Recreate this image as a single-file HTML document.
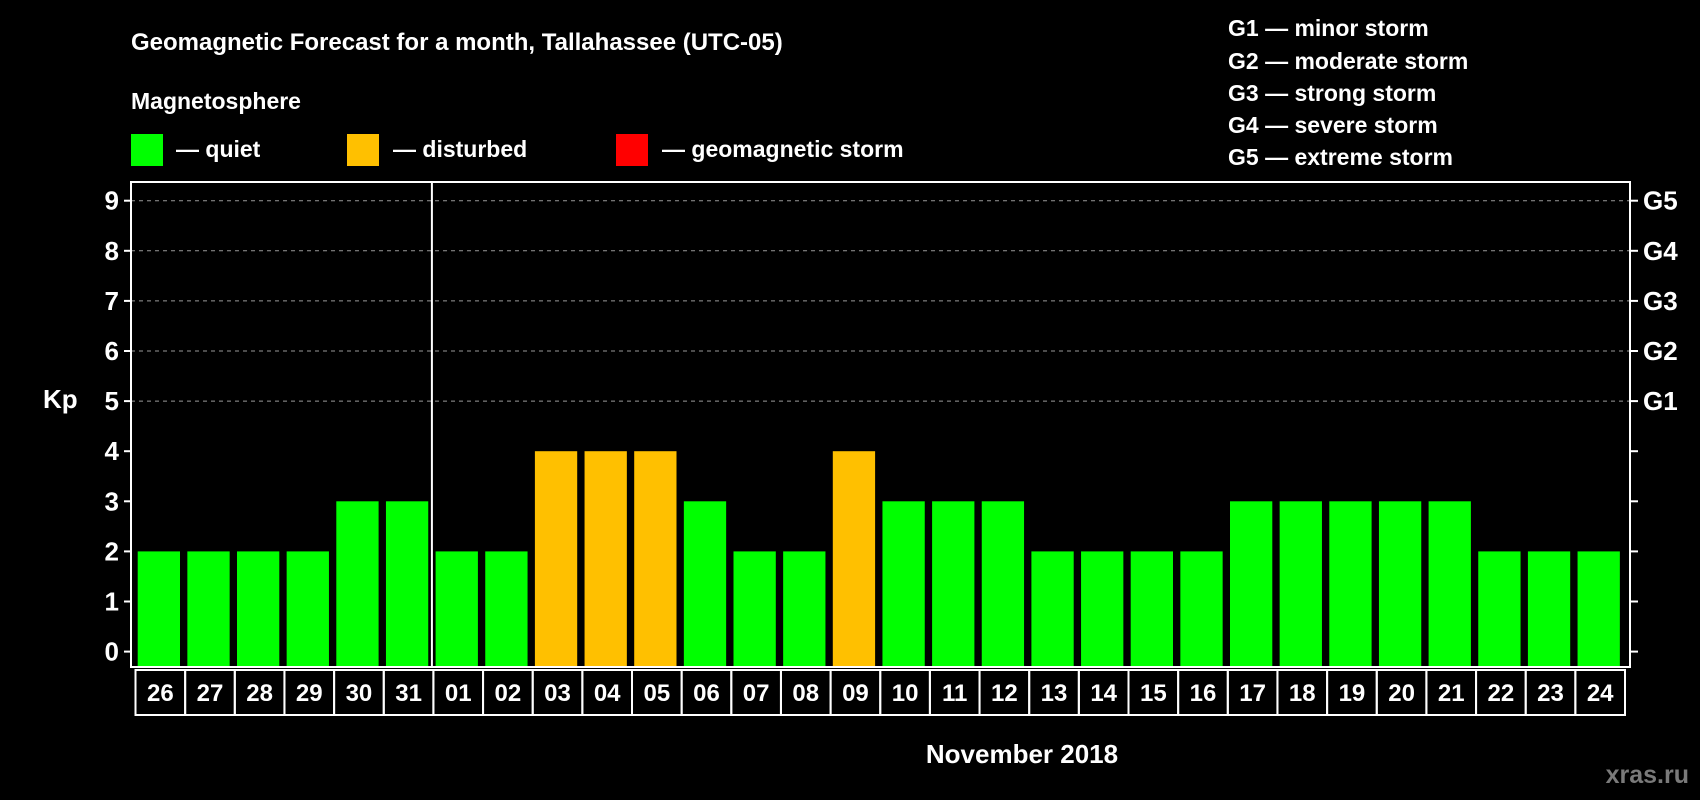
<!DOCTYPE html>
<html><head><meta charset="utf-8"><style>
html,body{margin:0;padding:0;background:#000;}
svg{display:block;font-family:"Liberation Sans",Arial,sans-serif;font-weight:bold;}
</style></head><body>
<svg id="chart" width="1700" height="800" viewBox="0 0 1700 800">
<rect width="1700" height="800" fill="#000"/>
<text x="131" y="50" fill="#fff" font-size="24">Geomagnetic Forecast for a month, Tallahassee (UTC-05)</text>
<text x="131" y="109" fill="#fff" font-size="23">Magnetosphere</text>
<g><rect x="131" y="134" width="32" height="32" fill="#00ff00"/><text x="176" y="157" fill="#fff" font-size="23">— quiet</text></g>
<g><rect x="347" y="134" width="32" height="32" fill="#ffc000"/><text x="393" y="157" fill="#fff" font-size="23">— disturbed</text></g>
<g><rect x="616" y="134" width="32" height="32" fill="#ff0000"/><text x="662" y="157" fill="#fff" font-size="23">— geomagnetic storm</text></g>
<g fill="#fff" font-size="23">
<text x="1228" y="36">G1 — minor storm</text>
<text x="1228" y="69">G2 — moderate storm</text>
<text x="1228" y="101">G3 — strong storm</text>
<text x="1228" y="133">G4 — severe storm</text>
<text x="1228" y="165">G5 — extreme storm</text>
</g>
<text x="43" y="408" fill="#fff" font-size="26">Kp</text>
<text x="1022" y="763" fill="#fff" font-size="26" text-anchor="middle">November 2018</text>
<text x="1689" y="783" fill="#7a7a7a" font-size="25" text-anchor="end">xras.ru</text>
<g id="plot"></g>
</svg>
<script>
const days = ["26","27","28","29","30","31","01","02","03","04","05","06","07","08","09","10","11","12","13","14","15","16","17","18","19","20","21","22","23","24","25"].slice(0,30);
const kpValues = [2,2,2,2,3,3,2,2,4,4,4,3,2,2,4,3,3,3,2,2,2,2,3,3,3,3,3,2,2,2];
const yTicks = [0,1,2,3,4,5,6,7,8,9];
const gLabels = ["G1","G2","G3","G4","G5"];
const gLevels = [5,6,7,8,9];
const monthStartIndex = 6;

const NS="http://www.w3.org/2000/svg";
const plot=document.getElementById('plot');
const L=131,R=1630,T=182,B=667,X0=137.7,PITCH=49.65,BW=42.3;
const y=v=>651.6-v*50.1;
const x=i=>X0+i*PITCH;
function mk(tag,attrs,parent){const e=document.createElementNS(NS,tag);for(const k in attrs)e.setAttribute(k,attrs[k]);(parent||plot).appendChild(e);return e;}
function color(v){return v>=5?"#ff0000":v>=4?"#ffc000":"#00ff00";}

// grid
yTicks.forEach(v=>{
  if(v>=5){const g=mk('line',{x1:L,x2:R,y1:y(v),y2:y(v),stroke:"#999","stroke-width":1,"stroke-dasharray":"4,4"});
  
  }
  const t1=mk('line',{x1:L-7,x2:L,y1:y(v),y2:y(v),stroke:"#fff","stroke-width":2});
  
  
  const t2=mk('line',{x1:R,x2:R+8,y1:y(v),y2:y(v),stroke:"#fff","stroke-width":2});
  
  
  const lab=mk('text',{x:L-12,y:y(v)+9,fill:"#fff","font-size":26,"text-anchor":"end"});
  lab.textContent=v;
  
  
});
gLabels.forEach((g,i)=>{
  const t=mk('text',{x:R+13,y:y(gLevels[i])+9,fill:"#fff","font-size":26});
  t.textContent=g;
  
  
});
// bars
kpValues.forEach((v,i)=>{
  const r=mk('rect',{x:x(i),y:y(v),width:BW,height:B-y(v),fill:color(v)});
  
  
});
// frame
const fr=mk('rect',{x:L,y:T,width:R-L,height:B-T,fill:"none",stroke:"#fff","stroke-width":2});


const sep=mk('line',{x1:x(monthStartIndex)-3.7,x2:x(monthStartIndex)-3.7,y1:T,y2:B,stroke:"#fff","stroke-width":2});


// day label boxes
days.forEach((d,i)=>{
  const bx=x(i)-2.2;
  const r=mk('rect',{x:bx,y:670,width:PITCH,height:45,fill:"none",stroke:"#fff","stroke-width":2});
  
  
  const t=mk('text',{x:bx+PITCH/2,y:701,fill:"#fff","font-size":24,"text-anchor":"middle"});
  t.textContent=d;
  
  
});
</script>
</body></html>
